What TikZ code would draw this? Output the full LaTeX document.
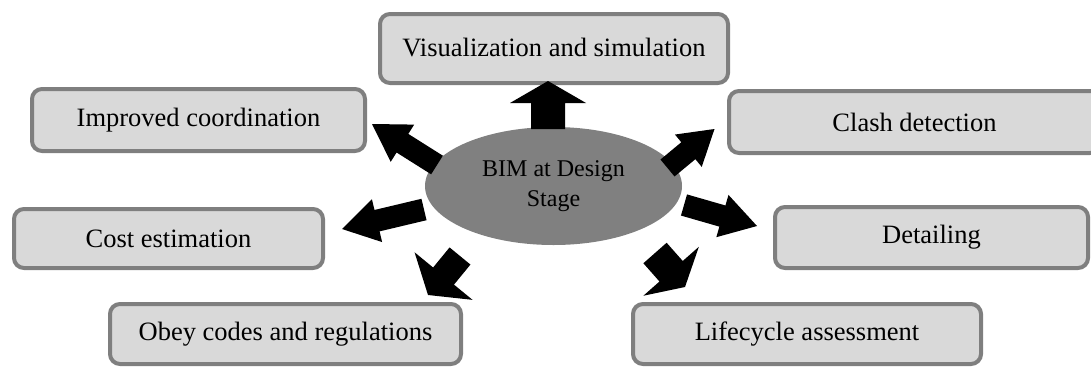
\documentclass[tikz,border=0pt]{standalone}
\usepackage{fontspec}
\setmainfont{Liberation Serif}
\usetikzlibrary{calc,shapes.geometric}

\definecolor{boxfill}{HTML}{D9D9D9}
\definecolor{boxline}{HTML}{7F7F7F}
\definecolor{hubfill}{HTML}{808080}

% Block arrow from #1 (tail) to #2 (tip): shaft half width #3,
% head half width #4, head length #5; #6 names the neck point.
\newcommand\blockarrow[6]{%
  \coordinate (#6) at ($(#2)!#5!(#1)$);
  \fill[arrowfill]
    ($(#1)!#3!90:(#2)$) -- ($(#6)!#3!90:(#2)$) -- ($(#6)!#4!90:(#2)$) --
    (#2) --
    ($(#6)!#4!-90:(#2)$) -- ($(#6)!#3!-90:(#2)$) -- ($(#1)!#3!-90:(#2)$) -- cycle;
}

\begin{document}
\begin{tikzpicture}[x=1pt,y=-1pt,
  box/.style={draw=boxline, line width=4pt, fill=boxfill, rounded corners=10pt,
    inner sep=0pt, font=\fontsize{26.5}{31}\selectfont, text=black},
  hub/.style={ellipse, fill=hubfill, inner sep=0pt, align=center,
    minimum width=257pt, minimum height=118pt,
    font=\fontsize{24}{30}\selectfont, text=black},
  arrowfill/.style={fill=black}]
\useasboundingbox (0,0) rectangle (1091,367);

% outcome boxes
\node[box, minimum width=348pt, minimum height=69pt] (vis)    at (554,48.5)  {\raisebox{3pt}{Visualization and simulation}};
\node[box, minimum width=333pt, minimum height=62pt] (coord)  at (198.5,120) {Improved coordination};
\node[box, minimum width=309pt, minimum height=59pt] (cost)   at (168.5,238.5) {Cost estimation};
\node[box, minimum width=371pt, minimum height=62pt] (clash)  at (914.5,122) {Clash detection};
\node[box, minimum width=313pt, minimum height=61pt] (detail) at (931.5,237.5) {Detailing};
\node[box, minimum width=348pt, minimum height=60pt] (life)   at (807,334)   {Lifecycle assessment};
\node[box, minimum width=351pt, minimum height=60pt] (obey)   at (285.5,334) {Obey codes and regulations};

% central hub
\node[hub] (bim) at (553.5,186) {BIM at Design\\Stage};

% arrow end points
\coordinate (visT)    at (548,129);   \coordinate (visP)    at (548,81);
\coordinate (coordT)  at (437,165);   \coordinate (coordP)  at (372,124);
\coordinate (costT)   at (424,209.5); \coordinate (costP)   at (342,229);
\coordinate (clashT)  at (667.5,168); \coordinate (clashP)  at (714.5,129);
\coordinate (detailT) at (684,205);   \coordinate (detailP) at (757,226);
\coordinate (obeyT)   at (460,256);   \coordinate (obeyP)   at (428,295);
\coordinate (lifeT)   at (655,253);   \coordinate (lifeP)   at (685,287);

% block arrows
\blockarrow{visT}{visP}{17pt}{38pt}{22pt}{visN}
\blockarrow{coordT}{coordP}{11pt}{22pt}{36pt}{coordN}
\blockarrow{costT}{costP}{11pt}{22pt}{36pt}{costN}
\blockarrow{clashT}{clashP}{11pt}{21pt}{34pt}{clashN}
\blockarrow{detailT}{detailP}{11pt}{22pt}{36pt}{detailN}
\blockarrow{obeyT}{obeyP}{13.5pt}{37.5pt}{24.5pt}{obeyN}
\blockarrow{lifeT}{lifeP}{15.5pt}{37pt}{21pt}{lifeN}
\end{tikzpicture}
\end{document}
